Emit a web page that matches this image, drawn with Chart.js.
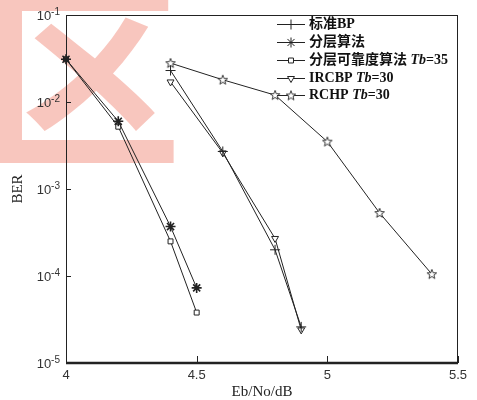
<!DOCTYPE html>
<html>
<head>
<meta charset="utf-8">
<script src="https://cdn.jsdelivr.net/npm/chart.js@4/dist/chart.umd.min.js"></script>
<style>
  body { margin: 0; background: #fff; }
  canvas { display: block; }
</style>
</head>
<body>
<canvas id="ber-chart" width="477" height="400"></canvas>
<script>
// values (Eb/No in dB, BER)
const snrBP = [4.4, 4.6, 4.8, 4.9];
const berBP = [2.3e-2, 2.7e-3, 2.0e-4, 2.6e-5];

const snrLayer = [4.0, 4.2, 4.4, 4.5];
const berLayer = [3.1e-2, 6.0e-3, 3.7e-4, 7.3e-5];

const snrReliab = [4.0, 4.2, 4.4, 4.5];
const berReliab = [3.1e-2, 5.2e-3, 2.5e-4, 3.8e-5];

const snrIRCBP = [4.4, 4.6, 4.8, 4.9];
const berIRCBP = [1.7e-2, 2.6e-3, 2.7e-4, 2.4e-5];

const snrRCHP = [4.4, 4.6, 4.8, 5.0, 5.2, 5.4];
const berRCHP = [2.8e-2, 1.8e-2, 1.2e-2, 3.5e-3, 5.3e-4, 1.05e-4];

const xTicks = [4, 4.5, 5, 5.5];
const yExponents = [-1, -2, -3, -4, -5];

// legend entries: name, then the Tb suffix (or null)
const legendNames = ["标准BP", "分层算法", "分层可靠度算法", "IRCBP", "RCHP"];
const legendTb = [null, null, "=35", "=30", "=30"];

function pairs(xs, ys) {
  return xs.map((x, i) => ({ x: x, y: ys[i] }));
}

// five point star marker
function makePentagram() {
  const c = document.createElement("canvas");
  c.width = 12;
  c.height = 12;
  const g = c.getContext("2d");
  g.beginPath();
  for (let i = 0; i < 10; i++) {
    const r = i % 2 === 0 ? 5 : 2.1;
    const a = -Math.PI / 2 + (i * Math.PI) / 5;
    const px = 6 + r * Math.cos(a);
    const py = 6.3 + r * Math.sin(a);
    if (i === 0) g.moveTo(px, py);
    else g.lineTo(px, py);
  }
  g.closePath();
  g.fillStyle = "#fff";
  g.fill();
  g.strokeStyle = "#222";
  g.lineWidth = 0.9;
  g.stroke();
  return c;
}
const pentagram = makePentagram();

const common = {
  borderColor: "#222",
  borderWidth: 1,
  pointBorderColor: "#222",
  pointBackgroundColor: "#fff",
  pointBorderWidth: 1,
  pointRadius: 4,
  fill: false,
  tension: 0,
  clip: false,
};

const datasets = [
  Object.assign({}, common, { label: legendNames[0], data: pairs(snrBP, berBP), pointStyle: "cross", pointRadius: 5 }),
  Object.assign({}, common, { label: legendNames[1], data: pairs(snrLayer, berLayer), pointStyle: "star", pointRadius: 5, pointBorderWidth: 1.6 }),
  Object.assign({}, common, { label: legendNames[2], data: pairs(snrReliab, berReliab), pointStyle: "rect", pointRadius: 3.5 }),
  Object.assign({}, common, { label: legendNames[3], data: pairs(snrIRCBP, berIRCBP), pointStyle: "triangle", rotation: 180, pointRadius: 4 }),
  Object.assign({}, common, { label: legendNames[4], data: pairs(snrRCHP, berRCHP), pointStyle: pentagram }),
];

// faint red stamp behind the plot
const watermark = {
  id: "watermark",
  beforeDraw(chart) {
    const ctx = chart.ctx;
    ctx.save();
    ctx.fillStyle = "rgba(238,120,100,0.42)";
    ctx.font = "bold 200px 'Noto Sans CJK SC'";
    ctx.textBaseline = "top";
    ctx.fillText("区", -18, -26);
    ctx.restore();
  },
};

const frame = {
  id: "frame",
  afterDraw(chart) {
    const ctx = chart.ctx;
    const a = chart.chartArea;
    const xs = chart.scales.x;
    const ys = chart.scales.y;
    ctx.save();
    ctx.strokeStyle = "#222";
    ctx.lineWidth = 1;
    ctx.beginPath();
    ctx.moveTo(a.left, a.top + 0.5);
    ctx.lineTo(a.right, a.top + 0.5);
    ctx.moveTo(a.left + 0.5, a.top);
    ctx.lineTo(a.left + 0.5, a.bottom);
    ctx.moveTo(a.right - 0.5, a.top);
    ctx.lineTo(a.right - 0.5, a.bottom);
    ctx.stroke();
    ctx.lineWidth = 2.5;
    ctx.beginPath();
    ctx.moveTo(a.left, a.bottom);
    ctx.lineTo(a.right, a.bottom);
    ctx.stroke();

    // inward ticks
    ctx.lineWidth = 1;
    ctx.beginPath();
    xTicks.forEach((v) => {
      const px = Math.round(xs.getPixelForValue(v)) + 0.5;
      ctx.moveTo(px, a.bottom);
      ctx.lineTo(px, a.bottom - 7);
    });
    yExponents.forEach((e) => {
      const py = Math.round(ys.getPixelForValue(Math.pow(10, e))) + 0.5;
      ctx.moveTo(a.left, py);
      ctx.lineTo(a.left + 5, py);
    });
    ctx.stroke();

    // tick labels
    ctx.fillStyle = "#333";
    ctx.font = "13px 'Liberation Sans'";
    ctx.textAlign = "center";
    ctx.textBaseline = "top";
    xTicks.forEach((v) => {
      ctx.fillText(String(v), xs.getPixelForValue(v), a.bottom + 6);
    });
    yExponents.forEach((e) => {
      const py = ys.getPixelForValue(Math.pow(10, e));
      ctx.textAlign = "right";
      ctx.textBaseline = "middle";
      ctx.font = "10px 'Liberation Sans'";
      const sup = String(e);
      const supW = ctx.measureText(sup).width;
      ctx.fillText(sup, a.left - 6, py - 3);
      ctx.font = "13px 'Liberation Sans'";
      ctx.fillText("10", a.left - 6 - supW, py + 1);
    });

    // axis titles
    ctx.fillStyle = "#222";
    ctx.font = "15px 'Liberation Serif'";
    ctx.textAlign = "center";
    ctx.textBaseline = "middle";
    ctx.fillText("Eb/No/dB", (a.left + a.right) / 2, 392);
    ctx.save();
    ctx.translate(18, (a.top + a.bottom) / 2);
    ctx.rotate(-Math.PI / 2);
    ctx.fillText("BER", 0, 0);
    ctx.restore();

    // legend
    const rowY = [24, 42, 60, 78, 95];
    chart.data.datasets.forEach((ds, i) => {
      const y = rowY[i] + 0.5;
      ctx.strokeStyle = "#222";
      ctx.lineWidth = 1;
      ctx.beginPath();
      ctx.moveTo(277, y);
      ctx.lineTo(305, y);
      ctx.stroke();
      ctx.fillStyle = "#fff";
      Chart.helpers.drawPoint(ctx, {
        pointStyle: ds.pointStyle,
        rotation: ds.rotation || 0,
        radius: ds.pointRadius,
        borderWidth: ds.pointBorderWidth,
      }, 291, y);
      ctx.fillStyle = "#111";
      ctx.textAlign = "left";
      ctx.textBaseline = "middle";
      let tx = 309;
      ctx.font = "bold 14px 'Liberation Serif', 'Noto Sans CJK SC'";
      const name = legendTb[i] ? legendNames[i] + " " : legendNames[i];
      ctx.fillText(name, tx, y);
      tx += ctx.measureText(name).width;
      if (legendTb[i]) {
        ctx.font = "italic bold 14px 'Liberation Serif'";
        ctx.fillText("Tb", tx, y);
        tx += ctx.measureText("Tb").width;
        ctx.font = "bold 14px 'Liberation Serif'";
        ctx.fillText(legendTb[i], tx, y);
      }
    });
    ctx.restore();
  },
};

new Chart(document.getElementById("ber-chart").getContext("2d"), {
  type: "line",
  data: { datasets: datasets },
  plugins: [watermark, frame],
  options: {
    responsive: false,
    animation: false,
    layout: { padding: { top: 15, right: 19, left: 0, bottom: 0 } },
    plugins: {
      legend: { display: false },
      tooltip: { enabled: false },
    },
    scales: {
      x: {
        type: "linear",
        min: 4,
        max: 5.5,
        grid: { display: false },
        border: { display: false },
        ticks: { display: false },
        afterFit: (s) => { s.height = 37; },
      },
      y: {
        type: "logarithmic",
        min: 1e-5,
        max: 1e-1,
        grid: { display: false },
        border: { display: false },
        ticks: { display: false },
        afterFit: (s) => { s.width = 66; },
      },
    },
  },
});
</script>
</body>
</html>
